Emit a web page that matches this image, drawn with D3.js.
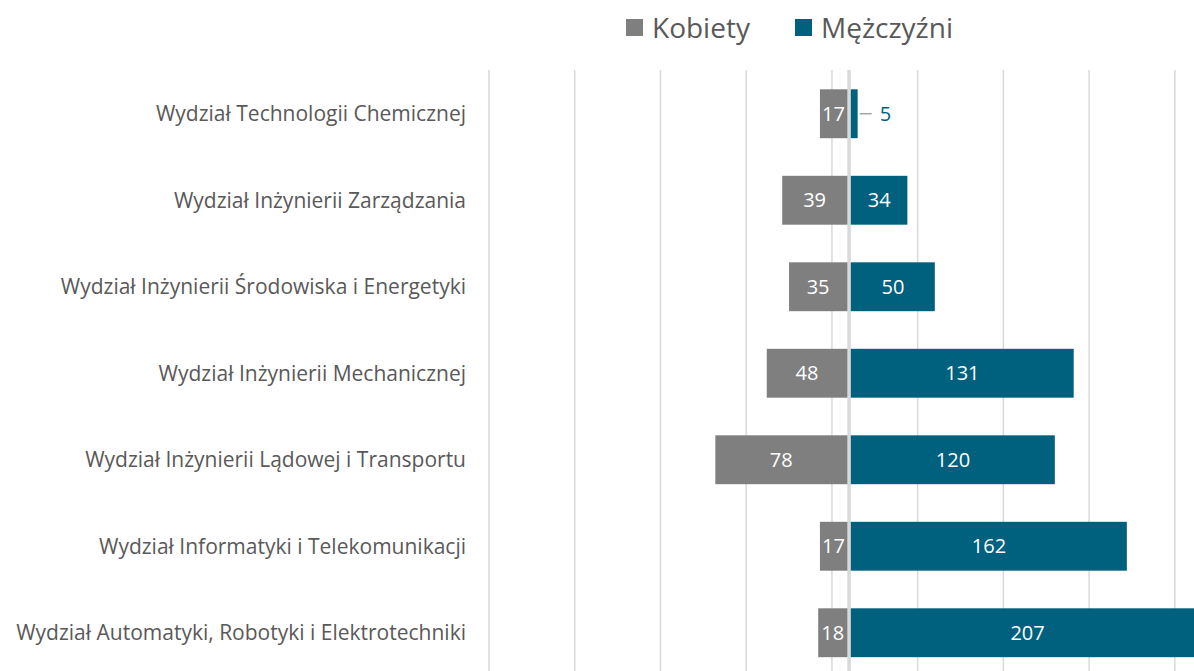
<!DOCTYPE html>
<html>
  <head>
    <meta charset="utf-8">
    <script src="https://cdn.jsdelivr.net/npm/d3@7"></script>
    <style>
      body { margin: 0; background: #fff; }
      svg { display: block; }
      text { font-family: "Open Sans", sans-serif; }
      .cat text { fill: #595959; font-size: 21px; }
      .legend text { fill: #595959; font-size: 28px; }
      .grid line { stroke: #d9d9d9; stroke-width: 1.5; }
    </style>
  </head>
  <body>
    <svg width="1194" height="671"></svg>
    <script>
      // data
      var categories = [
        'Wydział Technologii Chemicznej',
        'Wydział Inżynierii Zarządzania',
        'Wydział Inżynierii Środowiska i Energetyki',
        'Wydział Inżynierii Mechanicznej',
        'Wydział Inżynierii Lądowej i Transportu',
        'Wydział Informatyki i Telekomunikacji',
        'Wydział Automatyki, Robotyki i Elektrotechniki'
      ];
      var kobiety = [17, 39, 35, 48, 78, 17, 18];
      var mezczyzni = [5, 34, 50, 131, 120, 162, 207];
      var gridValues = [-210, -160, -110, -60, -10, 40, 90, 140, 190];
      var seriesNames = ['Kobiety', 'Mężczyźni'];
      var colors = ['#7f7f7f', '#00617f'];

      var svg = d3.select('svg');

      var x = d3.scaleLinear().domain([-210, 200]).range([489, 1192]);
      var y = d3.scaleBand().domain(categories).range([70.5, 676]).paddingInner(0.435).paddingOuter(0.2175);

      // gridlines
      svg.append('g').attr('class', 'grid')
        .selectAll('line').data(gridValues).enter().append('line')
          .attr('x1', d => x(d)).attr('x2', d => x(d))
          .attr('y1', 70).attr('y2', 676);

      // women bars (left)
      var gK = svg.append('g');
      gK.selectAll('rect').data(kobiety).enter().append('rect')
        .attr('x', d => x(-d))
        .attr('y', (d, i) => y(categories[i]))
        .attr('width', d => x(0) - x(-d))
        .attr('height', y.bandwidth())
        .attr('fill', colors[0]);

      // men bars (right)
      var gM = svg.append('g');
      gM.selectAll('rect').data(mezczyzni).enter().append('rect')
        .attr('x', x(0))
        .attr('y', (d, i) => y(categories[i]))
        .attr('width', d => x(d) - x(0))
        .attr('height', y.bandwidth())
        .attr('fill', colors[1]);

      // center axis
      svg.append('line')
        .attr('x1', x(0)).attr('x2', x(0))
        .attr('y1', 70).attr('y2', 676)
        .attr('stroke', '#d9d9d9').attr('stroke-width', 3.5);

      // data labels
      var mid = d => y(d) + y.bandwidth() / 2;
      gK.selectAll('text').data(kobiety).enter().append('text')
        .attr('x', d => (x(-d) + x(0) - 2) / 2)
        .attr('y', (d, i) => mid(categories[i]))
        .attr('dy', '0.35em')
        .attr('text-anchor', 'middle')
        .attr('fill', '#fff').style('font-size', '20px')
        .text(d => d);

      mezczyzni.forEach(function (d, i) {
        var cy = mid(categories[i]);
        var w = x(d) - x(0);
        if (w < 30) {
          svg.append('line')
            .attr('x1', x(d) + 2).attr('x2', x(d) + 14)
            .attr('y1', cy).attr('y2', cy)
            .attr('stroke', '#a6a6a6').attr('stroke-width', 1.5);
          svg.append('text')
            .attr('x', x(d) + 22).attr('y', cy).attr('dy', '0.35em')
            .attr('fill', colors[1]).style('font-size', '20px')
            .text(d);
        } else {
          svg.append('text')
            .attr('x', (x(0) + 2 + x(d)) / 2).attr('y', cy).attr('dy', '0.35em')
            .attr('text-anchor', 'middle')
            .attr('fill', '#fff').style('font-size', '20px')
            .text(d);
        }
      });

      // category labels
      svg.append('g').attr('class', 'cat')
        .selectAll('text').data(categories).enter().append('text')
          .attr('x', 466)
          .attr('y', d => mid(d))
          .attr('dy', '0.35em')
          .attr('text-anchor', 'end')
          .text(d => d);

      // legend
      var legend = svg.append('g').attr('class', 'legend');
      var legendX = [626, 795];
      seriesNames.forEach(function (name, i) {
        legend.append('rect')
          .attr('x', legendX[i]).attr('y', 19)
          .attr('width', 17).attr('height', 17)
          .attr('fill', colors[i]);
        legend.append('text')
          .attr('x', legendX[i] + 26).attr('y', 28).attr('dy', '0.35em')
          .text(name);
      });
    </script>
  </body>
</html>
